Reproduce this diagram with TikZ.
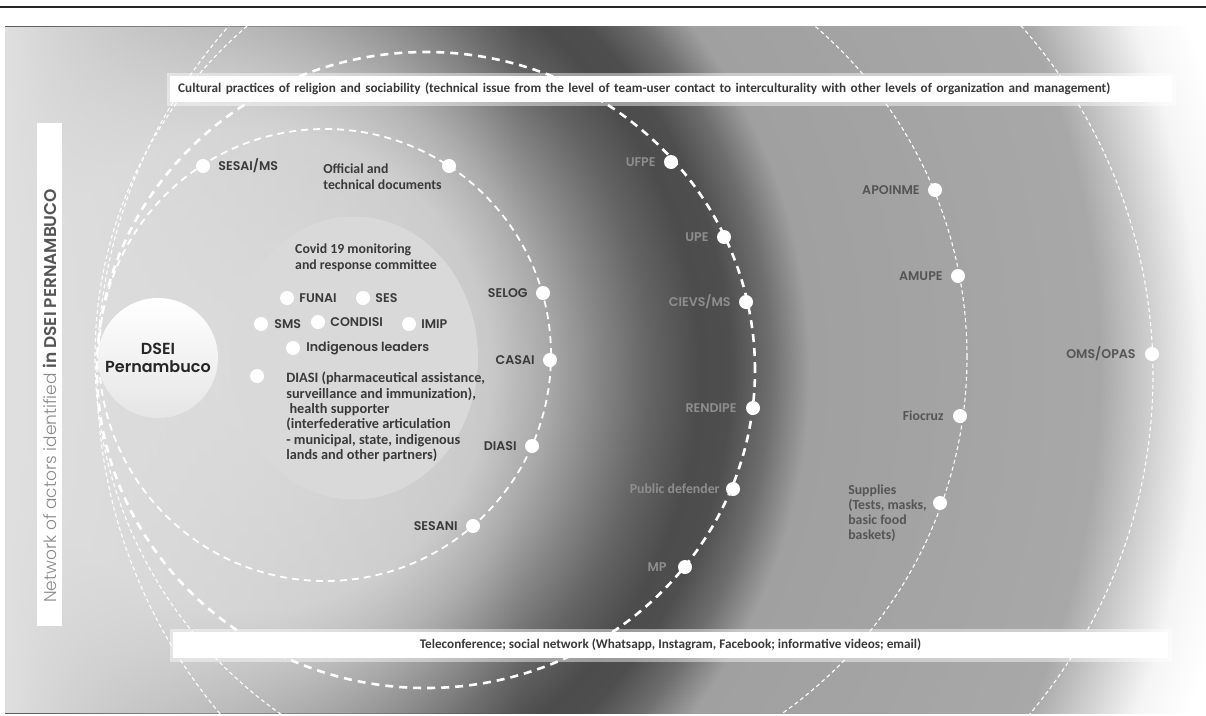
\documentclass[tikz,border=0pt]{standalone}
\usepackage{fontspec}
\setmainfont{Carlito}
\newfontfamily\popfont{Poppins}[BoldFont={* SemiBold}]
\newfontfamily\poplight{Poppins Light}
\usepackage{xcolor}
\usetikzlibrary{positioning, fadings, shapes.geometric}

\definecolor{shadeA}{HTML}{D6D6D6}
\definecolor{shadeB}{HTML}{C8C8C8}
\definecolor{shadeC}{HTML}{A8A8A8}
\definecolor{shadeD}{HTML}{858585}
\definecolor{shadeE}{HTML}{646464}
\definecolor{shadeF}{HTML}{4C4C4C}
\definecolor{shadeG}{HTML}{4E4E4E}
\definecolor{shadeH}{HTML}{6E6E6E}
\definecolor{shadeI}{HTML}{A0A0A0}
\definecolor{shadeJ}{HTML}{A8A8A8}
\definecolor{shadeK}{HTML}{F5F5F5}
\definecolor{paleleft}{HTML}{E0E0E0}
\definecolor{cmtfill}{HTML}{D9D9D9}
\definecolor{inkdark}{HTML}{3A3A3A}
\definecolor{inkdim}{HTML}{8E8E8E}
\definecolor{inkmid}{HTML}{555555}
\definecolor{netgray}{HTML}{8A8A8A}

\pgfdeclareradialshading{panelshade}{\pgfpointorigin}{%
  color(0bp)=(shadeA); color(6bp)=(shadeB); color(7.5bp)=(shadeC);
  color(8.75bp)=(shadeD); color(10bp)=(shadeE); color(11.25bp)=(shadeF);
  color(12bp)=(shadeG); color(13bp)=(shadeH); color(14bp)=(shadeI);
  color(21.25bp)=(shadeJ); color(23.75bp)=(shadeK); color(25bp)=(white);
  color(50bp)=(white)}

\begin{document}
\begin{tikzpicture}[
    x=1pt, y=-1pt,
    actor/.style={circle, fill=white, minimum size=14pt, inner sep=0pt},
    hub/.style={circle, minimum size=120pt, inner sep=0pt, top color=white, bottom color=black!10,
      align=center, font=\popfont\bfseries\fontsize{16}{18}\selectfont, text=black!85},
    lbl/.style={inner sep=0pt, font=\popfont\bfseries\fontsize{12.6}{14}\selectfont, text=inkdark},
    lbldim/.style={lbl, text=inkdim},
    lblmid/.style={lbl, text=inkmid},
    txt/.style={inner sep=0pt, align=left, font=\bfseries\fontsize{13.8}{15.2}\selectfont, text=inkdark},
    bar/.style={fill=white, inner ysep=0pt, minimum height=26pt, text=inkdark,
      font=\bfseries\fontsize{13.2}{15}\selectfont,
      preaction={draw=white, draw opacity=.45, line width=7pt, rounded corners=3pt}},
    ringa/.style={white, line width=1.8pt, dash pattern=on 7pt off 5pt},
    ringb/.style={white, line width=2.6pt, dash pattern=on 8pt off 6pt},
    ringc/.style={white, line width=1.1pt, dash pattern=on 4pt off 3pt}
  ]

\useasboundingbox (0,0) rectangle (1206,715);
\fill[white] (0,0) rectangle (1206,715);
\draw[black!85, line width=1.2pt] (0,7) -- (1206,7);

% Panel
\begin{scope}
  \clip (5,26) rectangle (1206,713);
  \shade[shading=panelshade] (250,370) circle[radius=1000pt];
  \fill[paleleft, path fading=east] (5,26) rectangle (520,713);
  \node[ellipse, fill=cmtfill, minimum width=248pt, minimum height=283pt, inner sep=0pt] (cmt) at (354,358) {};
  % Rings
  \draw[ringa] (325,355) circle[radius=226pt];
  \draw[ringb] (426,370) ellipse[x radius=329pt, y radius=318pt];
  \draw[ringc] (531,357) circle[radius=436pt];
  \draw[ringc] (625,375) circle[radius=528pt];
\end{scope}

% Bars
\node[bar, anchor=west, text width=986pt, inner xsep=8pt, align=left] (cult) at (170,89)
  {Cultural practices of religion and sociability (technical issue from the level of team-user contact to interculturality with other levels of organization and management)};
\node[bar, minimum width=995pt] (tele) at (670.5,645)
  {Teleconference; social network (Whatsapp, Instagram, Facebook; informative videos; email)};
\node[fill=white, minimum width=25pt, minimum height=503pt, inner sep=0pt] (netbox) at (49.5,374.5) {};
\node[rotate=90, anchor=west, inner sep=0pt, font=\fontsize{17}{20}\selectfont] (nettitle) at (50,603)
  {{\poplight\color{netgray}Network of actors identified }{\popfont\bfseries\color{inkmid}in DSEI PERNAMBUCO}};

% Centre
\node[hub] (dsei) at (158,358) {DSEI\\Pernambuco};
\node[txt, anchor=north west] (covid) at (295,244) {Covid 19 monitoring\\and response committee};

% Committee
\node[actor] (funai) at (287,298) {};
\node[lbl, right=5pt of funai] {FUNAI};
\node[actor] (ses) at (363,298) {};
\node[lbl, right=5pt of ses] {SES};
\node[actor] (sms) at (261,324) {};
\node[lbl, right=6pt of sms] {SMS};
\node[actor] (condisi) at (318,322) {};
\node[lbl, right=5pt of condisi] {CONDISI};
\node[actor] (imip) at (409,324) {};
\node[lbl, right=5pt of imip] {IMIP};
\node[actor] (leaders) at (293,348) {};
\node[lbl, right=6pt of leaders] {Indigenous leaders};
\node[actor] (diasic) at (257,376) {};
\node[txt, font=\bfseries\fontsize{14.3}{15.3}\selectfont, below right=-9pt and 24pt of diasic] (diasitxt)
  {DIASI (pharmaceutical assistance,\\surveillance and immunization),\\\ health supporter\\(interfederative articulation\\- municipal, state, indigenous\\lands and other partners)};

% Ring 1
\node[actor] (sesai) at (203,166) {};
\node[lbl, right=8pt of sesai] {SESAI/MS};
\node[actor] (offdoc) at (449,166) {};
\node[txt, below left=-7pt and 2pt of offdoc] {Official and\\technical documents};
\node[actor] (selog) at (543,293) {};
\node[lbl, left=8pt of selog] {SELOG};
\node[actor] (casai) at (550,360) {};
\node[lbl, left=8pt of casai] {CASAI};
\node[actor] (diasi) at (532,446) {};
\node[lbl, left=8pt of diasi] {DIASI};
\node[actor] (sesani) at (473,526) {};
\node[lbl, left=8pt of sesani] {SESANI};

% Ring 2
\node[actor] (ufpe) at (671,162) {};
\node[lbldim, left=8pt of ufpe] {UFPE};
\node[actor] (upe) at (724,237) {};
\node[lbldim, left=8pt of upe] {UPE};
\node[actor] (cievs) at (746,302) {};
\node[lbldim, left=8pt of cievs] {CIEVS/MS};
\node[actor] (rendipe) at (753,408) {};
\node[lbldim, left=9pt of rendipe] {RENDIPE};
\node[actor] (defender) at (733,489) {};
\node[txt, text=inkdim, left=6pt of defender] {Public defender};
\node[actor] (mp) at (685,567) {};
\node[lbldim, left=11pt of mp] {MP};

% Ring 3
\node[actor] (apoinme) at (935,190) {};
\node[lblmid, left=8pt of apoinme] {APOINME};
\node[actor] (amupe) at (958,276) {};
\node[lblmid, left=8pt of amupe] {AMUPE};
\node[actor] (fiocruz) at (960,416) {};
\node[txt, text=inkmid, left=9pt of fiocruz] {Fiocruz};
\node[actor] (supplies) at (940,503) {};
\node[txt, text=inkmid, left=6pt of supplies, yshift=-10pt] {Supplies\\(Tests, masks,\\basic food\\baskets)};

% Ring 4
\node[actor] (omsopas) at (1152,354) {};
\node[lblmid, left=9pt of omsopas] {OMS/OPAS};

\end{tikzpicture}
\end{document}
